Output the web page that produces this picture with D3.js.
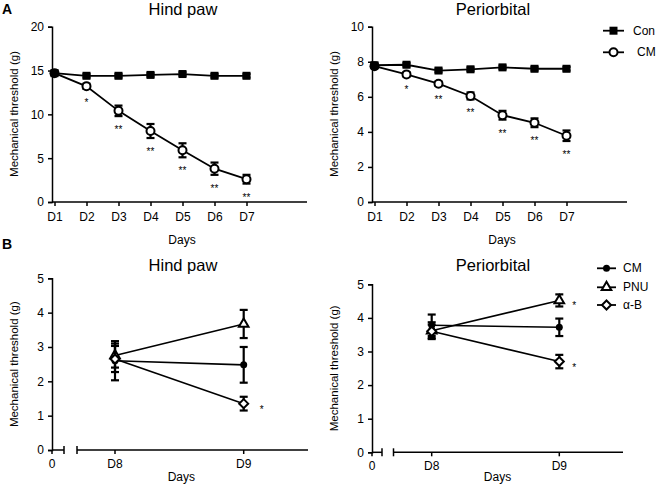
<!DOCTYPE html>
<html>
<head>
<meta charset="utf-8">
<script src="https://cdn.jsdelivr.net/npm/d3@7"></script>
<style>
  body { margin: 0; background: #fff; }
  svg { display: block; font-family: "Liberation Sans", Arial, sans-serif; }
</style>
</head>
<body>
<svg id="chart" width="658" height="486"></svg>
<script>
// ---------- DATA ----------
const topDays = [1, 2, 3, 4, 5, 6, 7];
const topDayLabels = ["D1", "D2", "D3", "D4", "D5", "D6", "D7"];
const hindCon = [14.7, 14.4, 14.4, 14.5, 14.6, 14.4, 14.4];
const hindConErr = [0.2, 0.2, 0.2, 0.2, 0.2, 0.2, 0.2];
const hindCM = [14.7, 13.2, 10.4, 8.1, 5.9, 3.8, 2.6];
const hindCMErr = [0.2, 0.3, 0.6, 0.8, 0.8, 0.7, 0.5];
const hindSig = ["", "*", "**", "**", "**", "**", "**"];
const periCon = [7.8, 7.83, 7.5, 7.57, 7.68, 7.6, 7.6];
const periConErr = [0.1, 0.1, 0.1, 0.1, 0.1, 0.1, 0.1];
const periCM = [7.75, 7.28, 6.75, 6.05, 4.95, 4.52, 3.78];
const periCMErr = [0.1, 0.12, 0.12, 0.2, 0.25, 0.25, 0.3];
const periSig = ["", "*", "**", "**", "**", "**", "**"];
const hindTicks = [0, 5, 10, 15, 20];
const periTicks = [0, 2, 4, 6, 8, 10];

const botDays = [8, 9];
const botDayLabels = ["D8", "D9"];
const hindB_CM = [2.6, 2.48], hindB_CMErr = [0.57, 0.52];
const hindB_PNU = [2.75, 3.67], hindB_PNUErr = [0.35, 0.41];
const hindB_aB = [2.65, 1.35], hindB_aBErr = [0.38, 0.2];
const hindB_Sig = ["", "", "*"]; // CM, PNU, aB at D9
const periB_CM = [3.78, 3.72], periB_CMErr = [0.32, 0.26];
const periB_PNU = [3.62, 4.52], periB_PNUErr = [0.25, 0.18];
const periB_aB = [3.6, 2.7], periB_aBErr = [0.2, 0.2];
const periB_Sig = ["", "*", "*"];
const botTicks = [0, 1, 2, 3, 4, 5];

const svg = d3.select("#chart");
const FONT = 12;
const FAM = "Liberation Sans, Arial, sans-serif";

function marker(g, type, x, y) {
  if (type === "square") {
    g.append("rect").attr("x", x - 4).attr("y", y - 4).attr("width", 8).attr("height", 8).attr("fill", "#000");
  } else if (type === "openCircle") {
    g.append("circle").attr("cx", x).attr("cy", y).attr("r", 4).attr("fill", "#fff").attr("stroke", "#000").attr("stroke-width", 2);
  } else if (type === "dot") {
    g.append("circle").attr("cx", x).attr("cy", y).attr("r", 3.5).attr("fill", "#000");
  } else if (type === "triangle") {
    const s = d3.symbol().type(d3.symbolTriangle).size(40);
    g.append("path").attr("d", s()).attr("transform", `translate(${x},${y})`).attr("fill", "#fff").attr("stroke", "#000").attr("stroke-width", 2);
  } else if (type === "diamond") {
    g.append("path").attr("d", `M${x},${y-4.5}L${x+4.5},${y}L${x},${y+4.5}L${x-4.5},${y}Z`).attr("fill", "#fff").attr("stroke", "#000").attr("stroke-width", 2);
  }
}

function errBar(g, x, y0, y1) {
  g.append("line").attr("x1", x).attr("x2", x).attr("y1", y0).attr("y2", y1).attr("stroke", "#000").attr("stroke-width", 2.2);
  [y0, y1].forEach(yy => g.append("line").attr("x1", x - 4).attr("x2", x + 4).attr("y1", yy).attr("y2", yy).attr("stroke", "#000").attr("stroke-width", 2.2));
}

function yAxis(g, y, ax, ticks) {
  g.append("g").attr("transform", `translate(${ax},0)`)
    .call(d3.axisLeft(y).tickValues(ticks).tickFormat(d3.format("d")).tickSize(4).tickPadding(4))
    .call(s => s.select(".domain").attr("stroke-width", 1.5))
    .call(s => s.selectAll(".tick line").attr("stroke-width", 1.5))
    .call(s => s.selectAll("text").attr("font-size", FONT).attr("font-family", FAM).attr("fill", "#000"));
}

function ylabel(g, x, yc) {
  g.append("text").attr("transform", `translate(${x},${yc}) rotate(-90)`).attr("text-anchor", "middle")
    .attr("font-size", 11.5).text("Mechanical threshold (g)");
}

function star(g, x, y, s) {
  g.append("text").attr("x", x).attr("y", y).attr("text-anchor", "middle").attr("font-size", 10)
    .attr("fill", "#000").attr("font-family", FAM).text(s);
}

// ---------- TOP PANELS ----------
function topPanel(cfg) {
  const g = svg.append("g");
  const y = d3.scaleLinear().domain([0, cfg.ymax]).range([202, 26.7]);
  const x = d3.scaleLinear().domain([1, 9]).range([cfg.ax + 2.5, cfg.ax + 2.5 + 8 * 32]);
  yAxis(g, y, cfg.ax, cfg.ticks);
  const xa = g.append("g").attr("transform", `translate(0,202)`)
    .call(d3.axisBottom(x).tickValues(topDays).tickFormat((d, i) => topDayLabels[i]).tickSize(4).tickPadding(6));
  xa.select(".domain").attr("d", `M${cfg.ax},0H${cfg.ax + 255}`).attr("stroke-width", 1.5);
  xa.selectAll(".tick line").attr("stroke-width", 1.5);
  xa.selectAll("text").attr("font-size", FONT).attr("font-family", FAM).attr("fill", "#000");
  g.append("text").attr("x", cfg.ax + 130).attr("y", 244).attr("text-anchor", "middle").attr("font-size", FONT).text("Days");
  g.append("text").attr("x", cfg.titleX).attr("y", 15).attr("text-anchor", "middle").attr("font-size", 16.5).text(cfg.title);
  ylabel(g, cfg.ax - 34, 114);

  const line = d3.line().x((d, i) => x(topDays[i])).y(d => y(d));
  g.append("path").datum(cfg.con).attr("d", line).attr("fill", "none").attr("stroke", "#000").attr("stroke-width", 1.8);
  g.append("path").datum(cfg.cm).attr("d", line).attr("fill", "none").attr("stroke", "#000").attr("stroke-width", 1.8);
  cfg.con.forEach((v, i) => { errBar(g, x(topDays[i]), y(v + cfg.conErr[i]), y(v - cfg.conErr[i])); marker(g, "square", x(topDays[i]), y(v)); });
  cfg.cm.forEach((v, i) => {
    if (i > 0) errBar(g, x(topDays[i]), y(v + cfg.cmErr[i]), y(v - cfg.cmErr[i]));
    if (i === 0) {
      g.append("circle").attr("cx", x(topDays[i])).attr("cy", y(v)).attr("r", 5).attr("fill", "#000");
    } else marker(g, "openCircle", x(topDays[i]), y(v));
    if (cfg.sig[i]) star(g, x(topDays[i]), y(v - cfg.cmErr[i]) + 17, cfg.sig[i]);
  });
}

topPanel({ ax: 52, ymax: 20, ticks: hindTicks, title: "Hind paw", titleX: 183, con: hindCon, conErr: hindConErr, cm: hindCM, cmErr: hindCMErr, sig: hindSig });
topPanel({ ax: 372, ymax: 10, ticks: periTicks, title: "Periorbital", titleX: 493, con: periCon, conErr: periConErr, cm: periCM, cmErr: periCMErr, sig: periSig });

// top legend
(function () {
  const g = svg.append("g");
  const items = [["Con", "square", 30.7], ["CM", "openCircle", 52.3]];
  items.forEach(([lab, t, yy]) => {
    g.append("line").attr("x1", 603).attr("x2", 624).attr("y1", yy).attr("y2", yy).attr("stroke", "#000").attr("stroke-width", 1.8);
    marker(g, t, 613.5, yy);
    g.append("text").attr("x", lab === "Con" ? 633 : 637).attr("y", yy + 4).attr("font-size", FONT).text(lab);
  });
})();

// ---------- BOTTOM PANELS ----------
function botPanel(cfg) {
  const g = svg.append("g");
  const y = d3.scaleLinear().domain([0, 5]).range([cfg.y0, cfg.y5]);
  const x = d3.scaleLinear().domain([8, 9]).range([cfg.d8, cfg.d9]);
  yAxis(g, y, cfg.ax, botTicks);
  const base = cfg.y0;
  const ax = g.append("g").attr("stroke", "#000").attr("stroke-width", 1.5);
  ax.append("line").attr("x1", cfg.ax).attr("x2", cfg.seg1End).attr("y1", base).attr("y2", base);
  ax.append("line").attr("x1", cfg.ax).attr("x2", cfg.ax).attr("y1", base).attr("y2", base + 4);
  ax.append("line").attr("x1", cfg.seg1End).attr("x2", cfg.seg1End).attr("y1", base - 4).attr("y2", base + 4);
  ax.append("line").attr("x1", cfg.seg2Start).attr("x2", cfg.seg2End).attr("y1", base).attr("y2", base);
  ax.append("line").attr("x1", cfg.seg2Start).attr("x2", cfg.seg2Start).attr("y1", base - 4).attr("y2", base + 4);
  botDays.forEach(d => ax.append("line").attr("x1", x(d)).attr("x2", x(d)).attr("y1", base).attr("y2", base + 4));
  g.append("text").attr("x", cfg.ax).attr("y", base + 18).attr("text-anchor", "middle").attr("font-size", FONT).text("0");
  botDays.forEach((d, i) => g.append("text").attr("x", x(d)).attr("y", base + 18).attr("text-anchor", "middle").attr("font-size", FONT).text(botDayLabels[i]));
  g.append("text").attr("x", (cfg.d8 + cfg.d9) / 2 + 2).attr("y", 481).attr("text-anchor", "middle").attr("font-size", FONT).text("Days");
  g.append("text").attr("x", cfg.titleX).attr("y", 271).attr("text-anchor", "middle").attr("font-size", 16.5).text(cfg.title);
  ylabel(g, cfg.ax - 34, (cfg.y0 + cfg.y5) / 2);

  const series = [
    [cfg.cm, cfg.cmErr, "dot"],
    [cfg.pnu, cfg.pnuErr, "triangle"],
    [cfg.ab, cfg.abErr, "diamond"]
  ];
  const line = d3.line().x((d, i) => x(botDays[i])).y(d => y(d));
  series.forEach(([vals]) => g.append("path").datum(vals).attr("d", line).attr("fill", "none").attr("stroke", "#000").attr("stroke-width", 1.6));
  series.forEach(([vals, errs, t], si) => {
    vals.forEach((v, i) => {
      errBar(g, x(botDays[i]), y(v + errs[i]), y(v - errs[i]));
      marker(g, t, x(botDays[i]), y(v));
    });
    if (cfg.sig[si]) star(g, x(9) + cfg.starDx, y(vals[1]) + 9, cfg.sig[si]);
  });
}

botPanel({ ax: 52, y0: 450, y5: 278.3, d8: 115, d9: 243.7, seg1End: 64, seg2Start: 77, seg2End: 308, title: "Hind paw", titleX: 183, starDx: 18,
  cm: hindB_CM, cmErr: hindB_CMErr, pnu: hindB_PNU, pnuErr: hindB_PNUErr, ab: hindB_aB, abErr: hindB_aBErr, sig: hindB_Sig });
botPanel({ ax: 372, y0: 452.3, y5: 284.3, d8: 431.7, d9: 559.3, seg1End: 382, seg2Start: 393.5, seg2End: 623, title: "Periorbital", titleX: 493, starDx: 15,
  cm: periB_CM, cmErr: periB_CMErr, pnu: periB_PNU, pnuErr: periB_PNUErr, ab: periB_aB, abErr: periB_aBErr, sig: periB_Sig });

// bottom legend
(function () {
  const g = svg.append("g");
  const items = [["CM", "dot", 268.3], ["PNU", "triangle", 287.3], ["α-B", "diamond", 305]];
  items.forEach(([lab, t, yy]) => {
    g.append("line").attr("x1", 597).attr("x2", 616).attr("y1", yy).attr("y2", yy).attr("stroke", "#000").attr("stroke-width", 1.8);
    marker(g, t, 606.5, yy);
    g.append("text").attr("x", 623).attr("y", yy + 4).attr("font-size", FONT).text(lab);
  });
})();

// panel letters
svg.append("text").attr("x", 2).attr("y", 14).attr("font-size", 14).attr("font-weight", "bold").text("A");
svg.append("text").attr("x", 2).attr("y", 249).attr("font-size", 14).attr("font-weight", "bold").text("B");
</script>
</body>
</html>
